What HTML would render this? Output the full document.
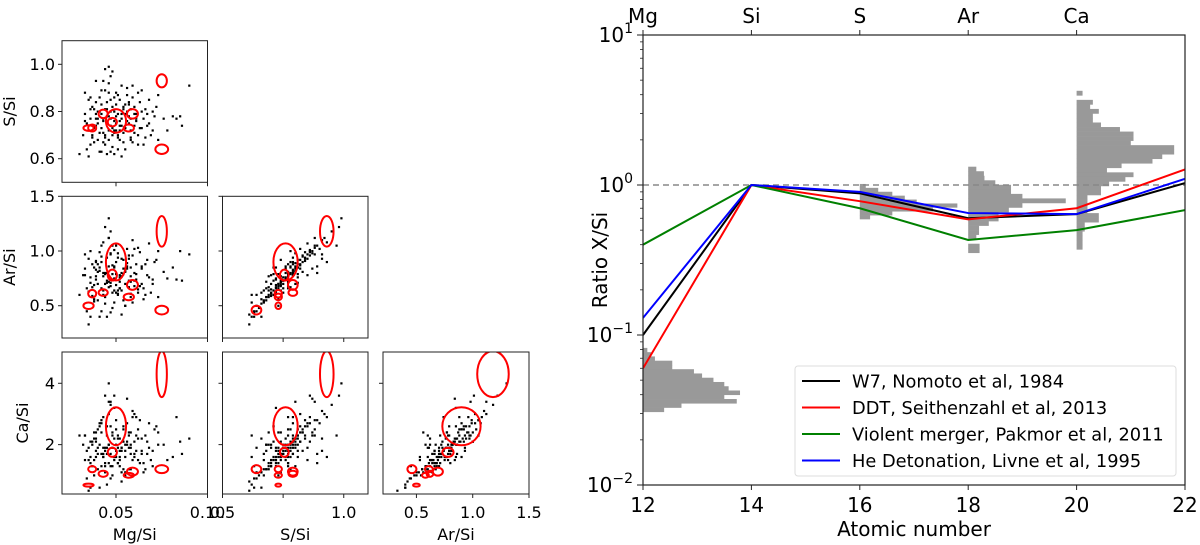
<!DOCTYPE html>
<html><head><meta charset="utf-8"><style>
html,body{margin:0;padding:0;background:#fff;}
svg{display:block;font-family:"DejaVu Sans","Liberation Sans",sans-serif;}
</style></head><body>
<svg id="fig" width="1200" height="545" viewBox="0 0 1200 545" xmlns="http://www.w3.org/2000/svg">
<g id="corner"></g>
<g id="ratio"></g>
</svg>
<script>
// ---------- Right chart data ----------
const elements = ["Mg","Si","S","Ar","Ca"];
const elementZ = [12,14,16,18,20];
const modelZ = [12,14,16,18,20,22];
const modelNames = ["W7, Nomoto et al, 1984","DDT, Seithenzahl et al, 2013","Violent merger, Pakmor et al, 2011","He Detonation, Livne et al, 1995"];
const modelColors = ["#000000","#ff0000","#008000","#0000ff"];
const w7Vals = [0.10,1,0.88,0.60,0.64,1.03];
const ddtVals = [0.06,1,0.78,0.59,0.70,1.27];
const mergerVals = [0.40,1,0.70,0.43,0.50,0.68];
const heVals = [0.13,1,0.90,0.65,0.64,1.10];
const xTicks = [12,14,16,18,20,22];
const yDecades = [-2,-1,0,1];
// histograms: base Z, top log10 value, bin log width, widths (in Z units) from top bin down
const histZ = [12,16,18,20];
const histTop = [-1.086,0.007,0.122,0.628];
const histBin = [0.0284,0.026,0.0302,0.0302];
const histMg = [0.08,0.15,0.22,0.54,0.54,0.94,1.09,1.3,1.5,1.58,1.79,1.5,1.73,0.71,0.39];
const histS = [0.11,0.34,0.6,0.83,1.05,1.8,1.35,0.6,0.19];
const histAr = [0.15,0.29,0.3,0.5,0.79,0.79,1.0,1.8,1.0,0.75,0.56,0.56,0.38,0.2,0.2,0.15,0,0.21,0.21,0];
const histCa = [0.11,0,0.3,0.25,0.41,0.3,0.3,0.45,0.8,1.05,1.05,1.0,1.8,1.8,1.58,1.4,0.83,0.56,1.05,0.9,0.6,0.45,0.45,0.2,0.2,0.2,0.2,0.41,0.41,0.15,0.15,0.11,0.11,0.11,0.11];

// ---------- Corner plot data: [Mg/Si, S/Si, Ar/Si, Ca/Si] ----------
const samples = [
[0.045,0.78,0.80,1.9],[0.052,0.74,0.72,1.6],[0.038,0.81,0.85,2.2],[0.061,0.76,0.74,1.8],[0.048,0.70,0.62,1.3],
[0.042,0.83,0.95,2.4],[0.055,0.79,0.82,2.0],[0.035,0.72,0.63,1.5],[0.066,0.81,0.88,2.3],[0.050,0.88,1.05,2.8],
[0.044,0.66,0.52,1.1],[0.058,0.68,0.58,1.2],[0.040,0.75,0.70,1.7],[0.047,0.85,0.97,2.6],[0.053,0.77,0.77,1.9],
[0.036,0.86,1.00,2.1],[0.063,0.73,0.68,1.4],[0.049,0.80,0.86,2.2],[0.071,0.78,0.90,2.5],[0.043,0.71,0.60,1.6],
[0.057,0.84,0.93,2.3],[0.039,0.77,0.74,1.8],[0.046,0.92,1.12,3.0],[0.054,0.82,0.84,2.1],[0.034,0.64,0.45,0.9],
[0.060,0.79,0.80,1.7],[0.051,0.69,0.64,1.4],[0.041,0.80,0.82,2.0],[0.068,0.75,0.76,1.9],[0.045,0.62,0.40,0.7],
[0.056,0.90,1.02,2.7],[0.038,0.74,0.69,1.5],[0.049,0.76,0.75,1.6],[0.073,0.87,1.00,2.4],[0.044,0.81,0.79,1.8],
[0.052,0.72,0.66,1.3],[0.033,0.79,0.78,2.3],[0.062,0.70,0.65,1.5],[0.047,0.95,1.18,3.3],[0.058,0.77,0.72,1.7],
[0.040,0.68,0.55,1.2],[0.050,0.83,0.90,2.5],[0.065,0.66,0.56,1.1],[0.043,0.76,0.80,1.9],[0.055,0.73,0.70,1.6],
[0.037,0.82,0.88,2.1],[0.048,0.65,0.48,1.0],[0.070,0.72,0.74,1.8],[0.046,0.78,0.86,2.0],[0.059,0.86,0.96,2.9],
[0.042,0.73,0.66,1.7],[0.053,0.61,0.42,0.8],[0.036,0.77,0.71,1.4],[0.064,0.80,0.84,2.2],[0.049,0.71,0.64,1.5],
[0.045,0.84,0.94,2.6],[0.057,0.75,0.73,1.9],[0.039,0.79,0.83,2.1],[0.076,0.77,0.81,2.0],[0.051,0.87,0.98,2.3],
[0.044,0.69,0.58,1.3],[0.060,0.74,0.68,1.6],[0.034,0.75,0.66,1.8],[0.048,0.82,0.87,2.4],[0.055,0.64,0.50,1.1],
[0.041,0.86,0.99,2.7],[0.067,0.79,0.78,1.7],[0.050,0.78,0.79,1.8],[0.043,0.93,1.08,2.9],[0.058,0.81,0.85,2.0],
[0.037,0.70,0.59,1.3],[0.052,0.76,0.76,2.2],[0.062,0.88,1.03,2.5],[0.046,0.72,0.67,1.4],[0.054,0.67,0.55,1.2],
[0.040,0.80,0.81,1.9],[0.083,0.77,0.74,2.9],[0.047,0.74,0.71,1.7],[0.069,0.70,0.62,1.5],[0.044,0.98,1.22,3.6],
[0.056,0.80,0.89,2.1],[0.035,0.61,0.33,0.5],[0.050,0.72,0.69,1.6],[0.061,0.77,0.79,2.3],[0.042,0.89,1.05,2.8],
[0.053,0.79,0.80,1.9],[0.038,0.67,0.54,1.0],[0.072,0.82,0.92,2.6],[0.047,0.63,0.44,0.9],[0.059,0.91,1.10,3.1],
[0.045,0.75,0.73,1.7],[0.064,0.73,0.70,1.8],[0.039,0.84,0.91,2.2],[0.051,0.70,0.61,1.4],[0.090,0.91,0.97,2.2],
[0.085,0.78,1.00,2.1],[0.033,0.88,0.97,2.3],[0.049,0.86,1.01,3.6],[0.057,0.83,0.96,2.4],[0.046,0.99,1.30,4.0],
[0.078,0.72,0.75,1.5],[0.041,0.63,0.40,0.6],[0.054,0.81,0.92,2.5],[0.066,0.69,0.60,1.2],[0.043,0.77,0.77,1.6],
[0.030,0.62,0.60,2.3],[0.032,0.70,0.78,2.0],[0.036,0.66,0.40,0.6],[0.039,0.93,0.90,1.6],[0.041,0.71,0.85,2.6],
[0.044,0.89,0.80,1.4],[0.046,0.68,0.72,2.0],[0.048,0.97,1.05,2.3],[0.049,0.72,0.85,3.2],[0.051,0.64,0.60,1.9],
[0.053,0.91,0.93,1.8],[0.055,0.73,0.50,1.0],[0.056,0.87,0.84,3.5],[0.058,0.69,0.77,2.4],[0.060,0.82,1.02,3.0],
[0.062,0.66,0.62,2.2],[0.064,0.89,0.86,1.7],[0.067,0.74,0.92,2.1],[0.070,0.80,0.70,1.3],[0.073,0.68,0.58,2.0],
[0.081,0.78,0.85,1.6],[0.086,0.74,0.73,1.7],[0.035,0.85,0.93,1.9],[0.038,0.73,0.56,2.4],[0.042,0.63,0.45,1.3],
[0.047,0.80,0.98,3.4],[0.050,0.75,0.62,2.0],[0.052,0.85,0.78,1.5],[0.054,0.71,0.79,2.6],[0.057,0.78,0.67,1.2],
[0.063,0.84,0.99,2.8],[0.059,0.67,0.53,1.5],[0.045,0.81,0.71,2.3],[0.040,0.77,0.88,2.5],[0.037,0.69,0.67,2.0],
[0.033,0.76,0.84,1.5],[0.048,0.73,0.79,1.9],[0.051,0.79,0.94,2.2],[0.055,0.83,0.81,1.8],[0.043,0.67,0.64,1.7],
[0.065,0.77,0.66,1.4],[0.068,0.85,1.07,2.7],[0.046,0.88,1.12,3.4],[0.049,0.62,0.53,1.6],[0.058,0.72,0.61,1.9],
[0.061,0.79,0.88,2.9],[0.039,0.74,0.77,2.4],[0.044,0.70,0.70,1.9],[0.052,0.68,0.66,1.8],[0.047,0.77,0.68,1.3],
[0.056,0.76,0.86,2.0],[0.042,0.79,0.90,2.7],[0.036,0.81,0.76,1.6],[0.053,0.74,0.64,1.1],[0.060,0.71,0.73,2.1]
];
// model contour clusters: centers and half-widths per ratio [Mg,S,Ar,Ca]
const clusterCenters = [
[0.075,0.93,1.18,4.3],[0.075,0.64,0.46,1.2],[0.050,0.76,0.90,2.6],[0.048,0.755,0.78,1.75],
[0.043,0.79,0.62,1.05],[0.037,0.73,0.61,1.2],[0.035,0.73,0.50,0.68],[0.059,0.79,0.69,1.12],[0.057,0.73,0.58,1.0]
];
const clusterWidths = [
[0.0028,0.028,0.14,0.75],[0.0035,0.02,0.04,0.13],[0.0055,0.05,0.17,0.62],[0.0025,0.018,0.05,0.15],
[0.0025,0.018,0.03,0.1],[0.0022,0.015,0.035,0.1],[0.0028,0.012,0.03,0.05],[0.003,0.02,0.045,0.13],[0.0028,0.015,0.03,0.08]
];

const NS="http://www.w3.org/2000/svg";
function mk(tag, attrs, parent){const e=document.createElementNS(NS,tag);for(const k in attrs)e.setAttribute(k,attrs[k]);parent.appendChild(e);return e;}

// ---------- Right chart ----------
(function(){
const g=document.getElementById('ratio');
const L=643,R=1185,T=35,B=485;
const xs=z=>L+(z-12)/(22-12)*(R-L);
const ys=v=>185-Math.log10(v)*150;
const yl=lg=>185-lg*150;
const defs=mk('defs',{},g);
const cp=mk('clipPath',{id:'rclip'},defs);
mk('rect',{x:L,y:T,width:R-L,height:B-T},cp);
const plot=mk('g',{'clip-path':'url(#rclip)'},g);
const hists=[histMg,histS,histAr,histCa];
const hnames=['mg','s','ar','ca'];
hists.forEach((h,i)=>{
  const hg=mk('g',{},plot);
  
  
  h.forEach((w,j)=>{
    if(w<=0)return;
    const top=histTop[i]-j*histBin[i], bot=top-histBin[i];
    const r=mk('rect',{x:xs(histZ[i]),y:yl(top),width:w*(R-L)/10,height:yl(bot)-yl(top)+0.3,fill:'#999999'},hg);
    
    
  });
});
const dl=mk('line',{x1:L,x2:R,y1:ys(1),y2:ys(1),stroke:'#888','stroke-width':1.6,'stroke-dasharray':'6,4'},plot);


const series=[w7Vals,ddtVals,mergerVals,heVals];
const snames=['w7','ddt','violent-merger','he-detonation'];
series.forEach((s,i)=>{
  const p=mk('polyline',{points:s.map((v,k)=>xs(modelZ[k])+','+ys(v)).join(' '),fill:'none',stroke:modelColors[i],'stroke-width':2},plot);
  
  
});
const fr=mk('rect',{x:L,y:T,width:R-L,height:B-T,fill:'none',stroke:'#222','stroke-width':1.2},g);


xTicks.forEach(z=>{
  mk('line',{x1:xs(z),x2:xs(z),y1:B,y2:B+5,stroke:'#222'},g);
  const t=mk('text',{x:xs(z),y:B+27,'text-anchor':'middle','font-size':20,fill:'#000'},g);
  t.textContent=z;
  
  
});
elements.forEach((el,i)=>{
  mk('line',{x1:xs(elementZ[i]),x2:xs(elementZ[i]),y1:T,y2:T-5,stroke:'#222'},g);
  const t=mk('text',{x:xs(elementZ[i]),y:T-12,'text-anchor':'middle','font-size':20,fill:'#000'},g);
  t.textContent=el;
  
  
});
yDecades.forEach(d=>{
  const y=yl(d);
  mk('line',{x1:L,x2:L-6,y1:y,y2:y,stroke:'#222'},g);
  const t=mk('text',{x:L-10,y:y+7,'text-anchor':'end','font-size':20,fill:'#000'},g);
  
  
  const a=mk('tspan',{},t);a.textContent='10';
  const b=mk('tspan',{dy:-9,'font-size':14},t);b.textContent=(d<0?'\u2212'+(-d):d);
  if(d<1)for(let m=2;m<=9;m++){const yy=yl(d+Math.log10(m));mk('line',{x1:L,x2:L-3,y1:yy,y2:yy,stroke:'#222','stroke-width':0.8},g);}
});
const xt=mk('text',{x:(L+R)/2,y:536,'text-anchor':'middle','font-size':20},g);
xt.textContent='Atomic number';


const yt=mk('text',{x:0,y:0,'text-anchor':'middle','font-size':20,transform:'translate(607,260) rotate(-90)'},g);
yt.textContent='Ratio X/Si';


const lg=mk('g',{},g);


mk('rect',{x:795,y:366,width:381,height:110,rx:3,fill:'#fff','fill-opacity':0.85,stroke:'#ddd'},lg);
modelNames.forEach((n,i)=>{
  const y=381+i*26.5;
  mk('line',{x1:802,x2:840,y1:y,y2:y,stroke:modelColors[i],'stroke-width':2},lg);
  const t=mk('text',{x:852,y:y+6.5,'font-size':17.8},lg);
  t.textContent=n;
  
  
});
})();

// ---------- Corner plot ----------
(function(){
const g=document.getElementById('corner');
const cols=[[62,207.5],[222.5,368],[383,529]];
const rows=[[40.7,182.3],[196.3,338],[352,494]];
const xRanges=[[0.0205,0.10],[0.5,1.1],[0.203,1.5]];
const yRanges=[[0.5,1.1],[0.205,1.5],[0.39,5.02]];
const xTickVals=[[0.05,0.10],[0.5,0.75,1.0],[0.5,1.0,1.5]];
const xTickTxt=[["0.05","0.10"],["0.5","","1.0"],["0.5","1.0","1.5"]];
const yTickVals=[[0.6,0.8,1.0],[0.5,1.0,1.5],[2,4]];
const yTickTxt=[["0.6","0.8","1.0"],["0.5","1.0","1.5"],["2","4"]];
const xNames=["Mg/Si","S/Si","Ar/Si"];
const yNames=["S/Si","Ar/Si","Ca/Si"];
const defs=mk('defs',{},g);
for(let r=0;r<3;r++)for(let c=0;c<=r;c++){
  const [x0,x1]=cols[c],[y0,y1]=rows[r];
  const xr=xRanges[c],yr=yRanges[r];
  const sx=v=>x0+(v-xr[0])/(xr[1]-xr[0])*(x1-x0);
  const sy=v=>y1-(v-yr[0])/(yr[1]-yr[0])*(y1-y0);
  const xi=c, yi=r+1;
  const pg=mk('g',{},g);
  
  
  const id='pc'+r+c;
  const cp=mk('clipPath',{id:id},defs);
  mk('rect',{x:x0,y:y0,width:x1-x0,height:y1-y0},cp);
  const inner=mk('g',{'clip-path':'url(#'+id+')'},pg);
  samples.forEach(p=>{
    const d=mk('rect',{x:sx(p[xi])-1,y:sy(p[yi])-1,width:2.2,height:2.2,fill:'#000'},inner);
    
    
  });
  clusterCenters.forEach((cc,k)=>{
    const w=clusterWidths[k];
    const e=mk('ellipse',{cx:sx(cc[xi]),cy:sy(cc[yi]),rx:Math.abs(sx(cc[xi]+w[xi])-sx(cc[xi])),ry:Math.abs(sy(cc[yi]+w[yi])-sy(cc[yi])),fill:'none',stroke:'#ff0000','stroke-width':2},inner);
    
    
  });
  mk('rect',{x:x0,y:y0,width:x1-x0,height:y1-y0,fill:'none',stroke:'#222','stroke-width':1},pg);
  xTickVals[c].forEach((v,k)=>{
    const x=sx(v);
    mk('line',{x1:x,x2:x,y1:y1,y2:y1+4,stroke:'#222'},pg);
    if(r===2&&xTickTxt[c][k]){
      const t=mk('text',{x:x,y:518,'text-anchor':'middle','font-size':16},pg);
      t.textContent=xTickTxt[c][k];
      
      
    }
  });
  yTickVals[r].forEach((v,k)=>{
    const y=sy(v);
    mk('line',{x1:x0,x2:x0-4,y1:y,y2:y,stroke:'#222'},pg);
    if(c===0){
      const t=mk('text',{x:x0-7,y:y+5.5,'text-anchor':'end','font-size':16},pg);
      t.textContent=yTickTxt[r][k];
      
      
    }
  });
  if(r===2){
    const t=mk('text',{x:(x0+x1)/2,y:540,'text-anchor':'middle','font-size':16},pg);
    t.textContent=xNames[c];
    
    
  }
  if(c===0){
    const yc=(y0+y1)/2, xx=(r===2?28:15);
    const t=mk('text',{x:0,y:0,'text-anchor':'middle','font-size':16,transform:'translate('+xx+','+yc+') rotate(-90)'},pg);
    t.textContent=yNames[r];
    
    
  }
}
})();
</script>
</body></html>
